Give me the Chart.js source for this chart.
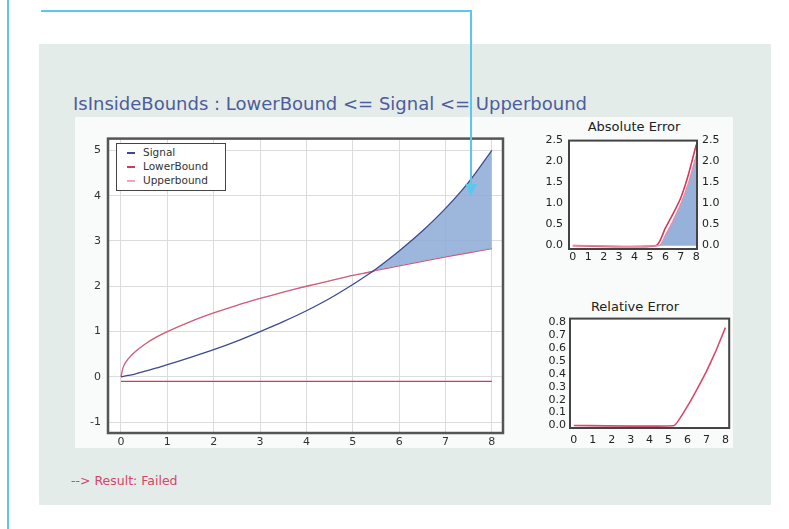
<!DOCTYPE html>
<html>
<head>
<meta charset="utf-8">
<script src="https://cdn.jsdelivr.net/npm/chart.js@4.4.0/dist/chart.umd.min.js"></script>
<style>
    body { margin: 0; width: 789px; height: 529px; background: #fff; position: relative; overflow: hidden; font-family: "DejaVu Sans", sans-serif; }
    .abs { position: absolute; }
    #panel { left: 39px; top: 44px; width: 732px; height: 461px; background: #e3ece8; }
    #plotbox { left: 75px; top: 117px; width: 658px; height: 331px; background: #f8fbfa; }
    #title { left: 73px; top: 95px; font-size: 18px; line-height: 1; color: #4d5c9c; white-space: nowrap; }
    #result { left: 71px; top: 475px; font-size: 12.5px; line-height: 1; color: #d4466c; white-space: nowrap; }
    .sub { font-size: 13px; line-height: 1; color: #222; white-space: nowrap; transform: translateX(-50%); }
    #legend { left: 116px; top: 143px; width: 108px; height: 46px; border: 1px solid #444; background: #fff; font-size: 10.5px; color: #333; }
    #legend div { position: absolute; left: 10px; white-space: nowrap; line-height: 1; }
    #legend span { display: inline-block; width: 8px; height: 2px; margin-right: 8px; vertical-align: middle; }
    .cyan { background: #5cc6ec; }
</style>
</head>
<body>
<div class="abs cyan" style="left:7px;top:0;width:2px;height:529px"></div>
<div class="abs" id="panel"></div>
<div class="abs" id="plotbox"></div>
<div class="abs" id="title">IsInsideBounds : LowerBound &lt;= Signal &lt;= Upperbound</div>

<canvas class="abs" id="mainChart" style="left:60px;top:125px" width="450" height="330"></canvas>
<div class="abs sub" style="left:634px;top:120px">Absolute Error</div>
<canvas class="abs" id="absChart" style="left:530px;top:128px" width="205" height="137"></canvas>
<div class="abs sub" style="left:635px;top:300px">Relative Error</div>
<canvas class="abs" id="relChart" style="left:530px;top:308px" width="205" height="140"></canvas>

<div class="abs" id="legend">
    <div style="top:3px"><span style="background:#3d4b8c"></span>Signal</div>
    <div style="top:17px"><span style="background:#d23a5c"></span>LowerBound</div>
    <div style="top:31px"><span style="background:#f2a4b6"></span>Upperbound</div>
</div>
<div class="abs" id="result">--&gt; Result: Failed</div>

<div class="abs cyan" style="left:41px;top:10px;width:431px;height:2px"></div>
<div class="abs cyan" style="left:470px;top:10px;width:2px;height:176px"></div>
<div class="abs" style="left:465px;top:184px;width:0;height:0;border-left:6px solid transparent;border-right:6px solid transparent;border-top:12px solid #5cc6ec"></div>

<script>
// main plot
const xVals = [0, 0.05, 0.15, 0.3, 0.5, 0.75, 1, 1.5, 2, 2.5, 3, 3.5, 4, 4.5, 5, 5.4, 5.5, 6, 6.5, 7, 7.5, 8];
const signal = [0, 0.01, 0.03, 0.06, 0.12, 0.19, 0.27, 0.43, 0.6, 0.79, 1.0, 1.22, 1.46, 1.73, 2.04, 2.31, 2.38, 2.78, 3.22, 3.72, 4.3, 5.0];
const lowerBound = [-0.1, -0.1, -0.1, -0.1, -0.1, -0.1, -0.1, -0.1, -0.1, -0.1, -0.1, -0.1, -0.1, -0.1, -0.1, -0.1, -0.1, -0.1, -0.1, -0.1, -0.1, -0.1];
const upperBound = [0, 0.22, 0.39, 0.55, 0.71, 0.87, 1.0, 1.22, 1.41, 1.58, 1.73, 1.87, 2.0, 2.12, 2.24, 2.32, 2.35, 2.45, 2.55, 2.65, 2.74, 2.83];
const mainXTicks = [0, 1, 2, 3, 4, 5, 6, 7, 8];
const mainYTicks = [-1, 0, 1, 2, 3, 4, 5];

// absolute error
const absLineX = [0, 5.4, 6, 6.5, 7, 7.5, 8];
const absLine = [0, 0, 0.42, 0.76, 1.14, 1.7, 2.4];
const absFillX = [0, 5.6, 6, 6.5, 7, 7.5, 8];
const absFill = [0, 0, 0.25, 0.6, 1.0, 1.5, 2.15];
const absYTicks = [0, 0.5, 1.0, 1.5, 2.0, 2.5];

// relative error
const relX = [0, 5.3, 6, 6.5, 7, 7.5, 8];
const relErr = [0, 0, 0.15, 0.28, 0.42, 0.58, 0.76];
const relYTicks = [0, 0.1, 0.2, 0.3, 0.4, 0.5, 0.6, 0.7, 0.8];
const smallXTicks = [0, 1, 2, 3, 4, 5, 6, 7, 8];

const pts = (xs, ys) => xs.map((x, i) => ({ x: x, y: ys[i] }));

// white plot area + dark frame round it
const framePlugin = {
    id: 'frame',
    beforeDraw(chart) {
        const { ctx, chartArea: a } = chart;
        ctx.save();
        ctx.fillStyle = '#ffffff';
        ctx.fillRect(a.left, a.top, a.right - a.left, a.bottom - a.top);
        ctx.restore();
    },
    afterDatasetsDraw(chart, args, opts) {
        const { ctx, chartArea: a } = chart;
        ctx.save();
        ctx.strokeStyle = opts.color;
        ctx.lineWidth = opts.width;
        ctx.strokeRect(a.left, a.top, a.right - a.left, a.bottom - a.top);
        ctx.restore();
    }
};

function tickOpts(size, padding, extra) {
    return Object.assign({ autoSkip: false, maxRotation: 0, color: '#222', font: { family: 'DejaVu Sans', size: size }, padding: padding }, extra || {});
}

function axis(min, max, tickVals, size, ticks, opts) {
    return Object.assign({
        type: 'linear', min: min, max: max,
        afterBuildTicks: s => { s.ticks = tickVals.map(v => ({ value: v })); },
        afterFit: s => { if (s.isHorizontal()) s.height = size; else s.width = size; },
        grid: { display: false, drawTicks: false },
        border: { display: false },
        ticks: ticks
    }, opts || {});
}

Chart.defaults.animation = false;
Chart.defaults.responsive = false;

const oneDecimal = { callback: v => v.toFixed(1) };

new Chart(document.getElementById('mainChart'), {
    type: 'line',
    data: {
        datasets: [
            { label: 'Signal', data: pts(xVals, signal), borderColor: '#3d4b8c', borderWidth: 1.3, pointRadius: 0, tension: 0.3,
              fill: { target: 2, above: 'rgba(140,170,214,0.85)', below: 'rgba(0,0,0,0)' } },
            { label: 'LowerBound', data: pts(xVals, lowerBound), borderColor: '#d23a5c', borderWidth: 1.3, pointRadius: 0 },
            { label: 'Upperbound', data: pts(xVals, upperBound), borderColor: '#d8506f', borderWidth: 1.3, pointRadius: 0, tension: 0.3 }
        ]
    },
    options: {
        layout: { padding: { top: 10, right: 7, left: 0, bottom: 0 } },
        plugins: { legend: { display: false }, tooltip: { enabled: false }, frame: { color: '#555', width: 2.5 } },
        scales: {
            x: axis(-0.28, 8.24, mainXTicks, 22, tickOpts(11, 3, { color: '#333' }),
                { grid: { display: true, drawTicks: false, color: '#dcdcdc', lineWidth: 1 } }),
            y: axis(-1.24, 5.26, mainYTicks, 48, tickOpts(11, 7, { color: '#333' }),
                { grid: { display: true, drawTicks: false, color: '#dcdcdc', lineWidth: 1 } })
        }
    },
    plugins: [framePlugin]
});

new Chart(document.getElementById('absChart'), {
    type: 'line',
    data: {
        datasets: [
            { label: 'fill', data: pts(absFillX, absFill), borderColor: '#f08aa4', borderWidth: 1.2, pointRadius: 0, tension: 0.2,
              fill: 'origin', backgroundColor: 'rgba(140,170,214,0.9)' },
            { label: 'abs', data: pts(absLineX, absLine), borderColor: '#d23a5c', borderWidth: 1.6, pointRadius: 0, tension: 0.2 }
        ]
    },
    options: {
        layout: { padding: { top: 10, right: 0, left: 0, bottom: 0 } },
        plugins: { legend: { display: false }, tooltip: { enabled: false }, frame: { color: '#444', width: 2 } },
        scales: {
            x: axis(-0.25, 8.05, smallXTicks, 16, tickOpts(11, 2)),
            y: axis(-0.08, 2.5, absYTicks, 39, tickOpts(11, 6, oneDecimal)),
            y2: axis(-0.08, 2.5, absYTicks, 38, tickOpts(11, 5, oneDecimal), { position: 'right' })
        }
    },
    plugins: [framePlugin]
});

new Chart(document.getElementById('relChart'), {
    type: 'line',
    data: {
        datasets: [
            { label: 'rel', data: pts(relX, relErr), borderColor: '#d84a6c', borderWidth: 1.6, pointRadius: 0, tension: 0.1 }
        ]
    },
    options: {
        layout: { padding: { top: 10, right: 4, left: 0, bottom: 0 } },
        plugins: { legend: { display: false }, tooltip: { enabled: false }, frame: { color: '#444', width: 2 } },
        scales: {
            x: axis(-0.2, 8.2, smallXTicks, 20, tickOpts(11, 6)),
            y: axis(-0.02, 0.83, relYTicks, 40, tickOpts(11, 4, oneDecimal))
        }
    },
    plugins: [framePlugin]
});
</script>
</body>
</html>
